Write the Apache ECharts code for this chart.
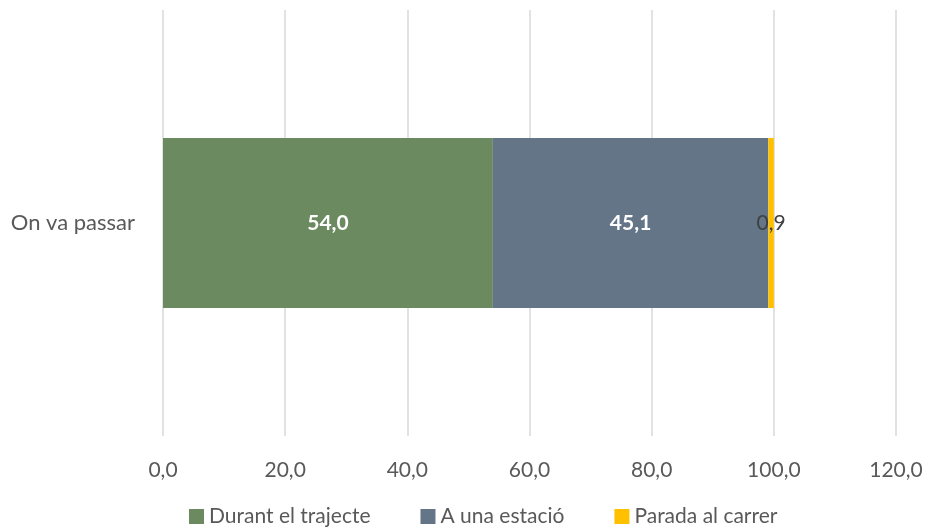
<!DOCTYPE html>
<html>
<head>
<meta charset="utf-8">
<script src="https://cdn.jsdelivr.net/npm/echarts@6/dist/echarts.min.js"></script>
<style>
  html, body { margin: 0; padding: 0; background: #fff; }
  #chart { width: 928px; height: 532px; }
</style>
</head>
<body>
<div id="chart"></div>
<script>
const categories = ['On va passar'];
const seriesNames = ['Durant el trajecte', 'A una estació', 'Parada al carrer'];
const durant = [54.0];
const estacio = [45.1];
const parada = [0.9];
const colors = ['#6b8a5f', '#637587', '#ffc000'];

const fmt = v => v.toFixed(1).replace('.', ',');
const font = 'Lato, "Open Sans", sans-serif';

const chart = echarts.init(document.getElementById('chart'));

const makeSeries = (name, data, color, label) => ({
  name: name,
  type: 'bar',
  stack: 'total',
  data: data,
  barWidth: 170,
  itemStyle: { color: color },
  label: label
});

const option = {
  animation: false,
  textStyle: { fontFamily: font },
  grid: { left: 163, right: 32, top: 10, bottom: 96 },
  legend: {
    left: 184,
    bottom: 0,
    itemWidth: 15,
    itemHeight: 15,
    itemGap: 50,
    icon: 'rect',
    textStyle: { fontSize: 21, color: '#595959', fontFamily: font },
    data: seriesNames
  },
  xAxis: {
    type: 'value',
    min: 0,
    max: 120,
    interval: 20,
    axisLine: { show: false },
    axisTick: { show: false },
    splitLine: { lineStyle: { color: '#d9d9d9', width: 1.5 } },
    axisLabel: { formatter: fmt, fontSize: 21, color: '#595959', margin: 24, fontFamily: font }
  },
  yAxis: {
    type: 'category',
    data: categories,
    axisLine: { show: false },
    axisTick: { show: false },
    axisLabel: { fontSize: 22, color: '#595959', margin: 28, fontFamily: font }
  },
  series: [
    makeSeries(seriesNames[0], durant, colors[0],
      { show: true, position: 'inside', color: '#fff', fontWeight: 'bold', fontSize: 21, fontFamily: font, formatter: p => fmt(p.value) }),
    makeSeries(seriesNames[1], estacio, colors[1],
      { show: true, position: 'inside', color: '#fff', fontWeight: 'bold', fontSize: 21, fontFamily: font, formatter: p => fmt(p.value) }),
    makeSeries(seriesNames[2], parada, colors[2],
      { show: true, position: 'inside', color: '#404040', fontSize: 21, fontFamily: font, formatter: p => fmt(p.value) })
  ]
};

chart.setOption(option);
</script>
</body>
</html>
